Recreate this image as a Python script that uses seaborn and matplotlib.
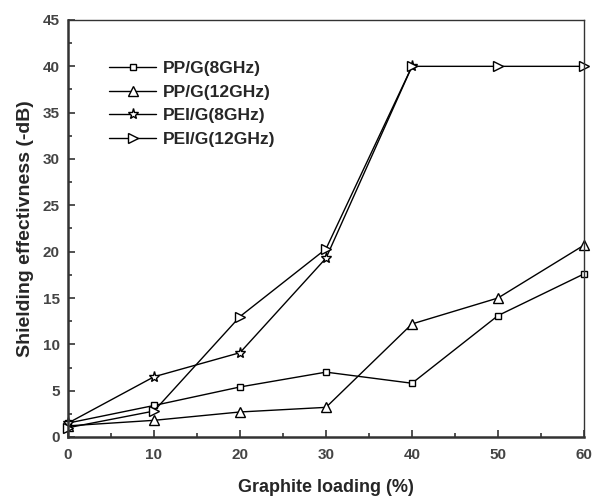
import matplotlib
matplotlib.use("Agg")
import matplotlib.pyplot as plt
import seaborn as sns
import pandas as pd
from matplotlib.ticker import MultipleLocator

loading = [0, 10, 20, 30, 40, 50, 60]
pp_8 = [1.5, 3.4, 5.4, 7.0, 5.8, 13.1, 17.6]
pp_12 = [1.2, 1.8, 2.7, 3.2, 12.2, 15.0, 20.7]
pei_8_x = [0, 10, 20, 30, 40]
pei_8 = [1.5, 6.5, 9.1, 19.3, 40.0]
pei_12 = [1.0, 2.8, 13.0, 20.3, 40.0, 40.0, 40.0]

series = [
    ("PP/G(8GHz)", loading, pp_8, "s", 5),
    ("PP/G(12GHz)", loading, pp_12, "^", 7),
    ("PEI/G(8GHz)", pei_8_x, pei_8, "*", 8),
    ("PEI/G(12GHz)", loading, pei_12, ">", 7),
]

sns.set_theme(style="ticks")
plt.rcParams['font.family'] = ['Liberation Sans', 'DejaVu Sans']

fig = plt.figure(figsize=(5.92, 4.97), dpi=100)
ax = fig.add_axes([68/592, 1-437/497, (584-68)/592, (437-20)/497])

for name, xs, ys, mk, ms in series:
    df = pd.DataFrame({"x": xs, "y": ys})
    sns.lineplot(data=df, x="x", y="y", ax=ax, color="black", lw=1.0,
                 marker=mk, markersize=ms, markerfacecolor="white",
                 markeredgecolor="black", markeredgewidth=1.0, label=name,
                 clip_on=False)

ax.set_xlim(0, 60)
ax.set_ylim(0, 45)
ax.xaxis.set_major_locator(MultipleLocator(10))
ax.xaxis.set_minor_locator(MultipleLocator(5))
ax.yaxis.set_major_locator(MultipleLocator(5))
ax.yaxis.set_minor_locator(MultipleLocator(2.5))
ax.tick_params(which="both", direction="in", top=False, right=False,
               colors="#333333", labelsize=11, width=1.2)
ax.tick_params(which="major", length=5)
ax.tick_params(which="minor", length=3)
ax.tick_params(axis="x", which="major", pad=8)
ax.tick_params(axis="y", which="major", pad=6)
for lbl in ax.get_xticklabels() + ax.get_yticklabels():
    lbl.set_fontweight("bold")
    lbl.set_color("#444444")

for s in ["left", "bottom"]:
    ax.spines[s].set_linewidth(1.8)
    ax.spines[s].set_color("#333333")
for s in ["top", "right"]:
    ax.spines[s].set_linewidth(1.0)
    ax.spines[s].set_color("#333333")

ax.set_xlabel("Graphite loading (%)", fontsize=13, fontweight="bold", labelpad=12)
ax.set_ylabel("Shielding effectivness (-dB)", fontsize=14, fontweight="bold", labelpad=6)

leg = ax.legend(loc="upper left", bbox_to_anchor=(0.05, 0.94), frameon=False,
                prop={"weight": "bold", "size": 12.5}, handlelength=2.7,
                labelspacing=0.5, handletextpad=0.35)

fig.savefig("out.png", dpi=100)
